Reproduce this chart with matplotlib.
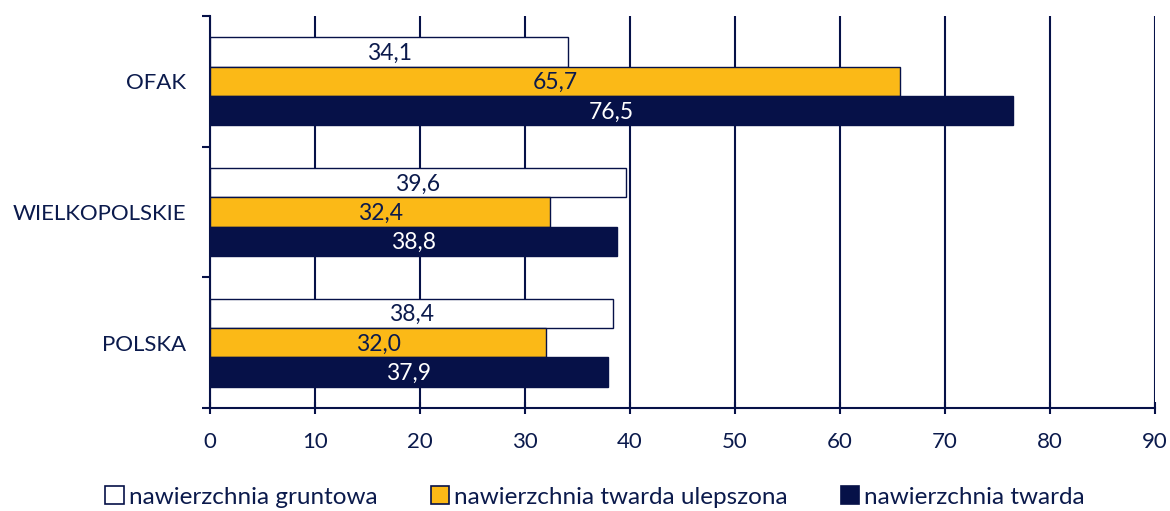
import matplotlib
matplotlib.use("Agg")
import matplotlib.pyplot as plt
from matplotlib.patches import Patch
import numpy as np

plt.rcParams['font.family'] = ['Lato', 'DejaVu Sans']

categories = ["POLSKA", "WIELKOPOLSKIE", "OFAK"]
series_names = ["nawierzchnia gruntowa", "nawierzchnia twarda ulepszona", "nawierzchnia twarda"]
gruntowa = [38.4, 39.6, 34.1]
ulepszona = [32.0, 32.4, 65.7]
twarda = [37.9, 38.8, 76.5]
x_ticks = [0, 10, 20, 30, 40, 50, 60, 70, 80, 90]

navy = "#061148"
orange = "#FBB917"
text_c = "#0B1A4C"

fig = plt.figure(figsize=(11.7, 5.11), dpi=100)
ax = fig.add_axes([0.1795, 0.2016, 0.8077, 0.7671])

y = np.arange(len(categories))
h = 0.224
series = [gruntowa, ulepszona, twarda]
faces = ["white", orange, navy]
offsets = [h, 0, -h]
label_colors = [text_c, text_c, "white"]

for vals, fc, off, lc in zip(series, faces, offsets, label_colors):
    bars = ax.barh(y + off, vals, height=h, color=fc, edgecolor=navy, linewidth=1.0, zorder=3)
    for b, v in zip(bars, vals):
        ax.text(b.get_width() / 2, b.get_y() + b.get_height() / 2 - 0.01,
                f"{v:.1f}".replace(".", ","), ha="center", va="center",
                color=lc, fontsize=16.5, zorder=4)

ax.set_xlim(0, 90)
ax.set_ylim(-0.5, 2.5)
ax.set_xticks(x_ticks)
ax.set_xticklabels([str(t) for t in x_ticks], fontsize=16, color=text_c)
ax.xaxis.grid(True, color=navy, linewidth=1.5, zorder=0)
ax.set_axisbelow(True)

ax.set_yticks(y)
ax.set_yticklabels(categories, fontsize=16, color=text_c)
ax.tick_params(axis='y', which='major', length=0, pad=17)
ax.set_yticks([-0.5, 0.5, 1.5, 2.5], minor=True)
ax.tick_params(axis='y', which='minor', length=6, width=1.5, color=navy, direction='out')
ax.tick_params(axis='x', which='major', length=8, width=1.5, color=navy, direction='inout', pad=13)

for s in ["top", "right"]:
    ax.spines[s].set_visible(False)
for s in ["left", "bottom"]:
    ax.spines[s].set_color(navy)
    ax.spines[s].set_linewidth(1.5)

handles = [Patch(facecolor=fc, edgecolor=navy, linewidth=1.2) for fc in faces]
fig.legend(handles, series_names, loc="center", ncol=3, frameon=False,
           bbox_to_anchor=(595 / 1170, 1 - 497 / 511), fontsize=17.5,
           handlelength=0.75, handleheight=0.75,
           handletextpad=0.2, columnspacing=2.2, labelcolor=text_c,
           borderpad=0, borderaxespad=0)

fig.savefig("out.png", dpi=100)
